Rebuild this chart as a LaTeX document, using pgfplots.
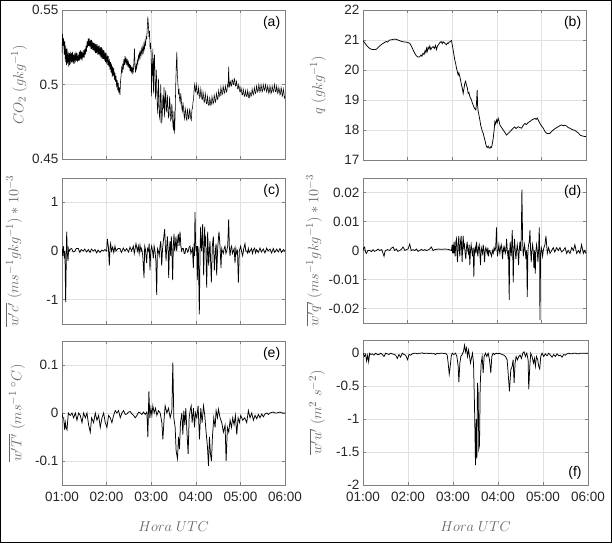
\documentclass[border=0pt]{standalone}
\usepackage{fontspec}
\setmainfont{Liberation Sans}
\usepackage{pgfplots}
\pgfplotsset{compat=1.18}
\newcommand{\labfont}{\fontsize{15}{18}\selectfont}
\pgfplotsset{
  myax/.style={
    scale only axis, xmin=1, xmax=6, xtick={1,2,3,4,5,6},
    scaled ticks=false,
    grid=major, major grid style={black!12, line width=0.4pt},
    axis line style={black!50, line width=0.5pt},
    tick style={black!50, line width=0.4pt}, tick align=inside, major tick length=3pt,
    ticklabel style={font=\fontsize{13.5}{16}\selectfont, text=black!85},
    xticklabel style={yshift=-4pt},
    cycle list={{black, mark=none, line width=0.75pt, line join=round}},
    xticklabels={},
  },
  ylab/.style={every axis y label/.style={at={([xshift=-#1]axis description cs:0,0.5)}, rotate=90, anchor=center, font=\labfont, text=black!60}},
  xlab/.style={every axis x label/.style={at={([yshift=-42pt]axis description cs:0.5,0)}, anchor=center, font=\labfont, text=black!60}},
  hrs/.style={xticklabels={01:00,02:00,03:00,04:00,05:00,06:00}},
}
\newcommand{\plab}{\fontsize{14}{16}\selectfont}
\begin{document}
\begin{tikzpicture}
\useasboundingbox (0pt,0pt) rectangle (612pt,543pt);
% (a)
\begin{axis}[myax, at={(62pt,384pt)}, anchor=south west, width=223pt, height=149pt,
  ymin=0.45, ymax=0.55, ytick={0.45,0.5,0.55}, yticklabels={0.45,0.5,0.55},
  ylab=43pt, ylabel={$CO_2\ (gkg^{-1})$}]
\addplot[black, mark=none, line width=0.55pt] coordinates {
(1.000,0.521)(1.012,0.534)(1.025,0.526)(1.037,0.531)(1.050,0.520)(1.062,0.529)(1.075,0.515)(1.087,0.526)(1.100,0.513)(1.112,0.524)(1.125,0.514)(1.137,0.522)(1.150,0.512)(1.162,0.521)(1.175,0.513)(1.187,0.522)(1.200,0.514)(1.212,0.521)(1.225,0.515)(1.237,0.522)(1.250,0.514)(1.262,0.520)(1.275,0.514)(1.287,0.521)(1.300,0.515)(1.312,0.522)(1.325,0.516)(1.337,0.521)(1.350,0.515)(1.362,0.520)(1.375,0.516)(1.387,0.522)(1.400,0.516)(1.412,0.523)(1.425,0.517)(1.437,0.522)(1.450,0.516)(1.462,0.522)(1.475,0.518)(1.487,0.523)(1.500,0.518)(1.512,0.524)(1.525,0.520)(1.537,0.526)(1.550,0.522)(1.562,0.529)(1.575,0.525)(1.587,0.531)(1.600,0.526)(1.612,0.531)(1.625,0.525)(1.637,0.530)(1.650,0.524)(1.662,0.530)(1.675,0.523)(1.687,0.529)(1.700,0.523)(1.712,0.528)(1.725,0.522)(1.737,0.528)(1.750,0.521)(1.762,0.527)(1.775,0.521)(1.787,0.527)(1.800,0.520)(1.812,0.526)(1.825,0.520)(1.837,0.526)(1.850,0.519)(1.862,0.525)(1.875,0.518)(1.887,0.525)(1.900,0.517)(1.912,0.524)(1.925,0.517)(1.937,0.523)(1.950,0.516)(1.962,0.522)(1.975,0.515)(1.987,0.521)(2.000,0.514)(2.012,0.520)(2.025,0.513)(2.037,0.519)(2.050,0.512)(2.062,0.517)(2.075,0.510)(2.087,0.515)(2.100,0.508)(2.112,0.514)(2.125,0.505)(2.137,0.512)(2.150,0.506)(2.162,0.511)(2.175,0.503)(2.187,0.508)(2.200,0.502)(2.212,0.506)(2.225,0.498)(2.237,0.503)(2.250,0.496)(2.262,0.501)(2.275,0.494)(2.287,0.498)(2.300,0.493)(2.312,0.502)(2.325,0.506)(2.337,0.511)(2.350,0.508)(2.362,0.514)(2.375,0.510)(2.387,0.517)(2.400,0.513)(2.412,0.519)(2.425,0.515)(2.437,0.518)(2.450,0.513)(2.462,0.517)(2.475,0.512)(2.487,0.516)(2.500,0.511)(2.512,0.514)(2.525,0.509)(2.537,0.513)(2.550,0.508)(2.562,0.512)(2.575,0.507)(2.587,0.511)(2.600,0.509)(2.612,0.515)(2.625,0.524)(2.637,0.512)(2.650,0.508)(2.662,0.513)(2.675,0.511)(2.687,0.516)(2.700,0.514)(2.712,0.519)(2.725,0.517)(2.737,0.521)(2.750,0.518)(2.762,0.522)(2.775,0.520)(2.787,0.524)(2.800,0.521)(2.812,0.525)(2.825,0.522)(2.837,0.527)(2.850,0.524)(2.862,0.529)(2.875,0.527)(2.887,0.532)(2.900,0.531)(2.912,0.538)(2.925,0.5455)(2.937,0.540)(2.950,0.532)(2.962,0.536)(2.975,0.524)(2.987,0.528)(3.000,0.519)(3.008,0.492)(3.017,0.514)(3.025,0.506)(3.037,0.524)(3.050,0.494)(3.062,0.515)(3.075,0.520)(3.087,0.497)(3.100,0.490)(3.112,0.510)(3.125,0.502)(3.137,0.485)(3.150,0.480)(3.162,0.504)(3.175,0.492)(3.187,0.478)(3.200,0.476)(3.212,0.500)(3.225,0.489)(3.237,0.474)(3.250,0.480)(3.262,0.493)(3.275,0.484)(3.287,0.498)(3.300,0.478)(3.312,0.490)(3.325,0.496)(3.337,0.483)(3.350,0.482)(3.362,0.493)(3.375,0.486)(3.387,0.478)(3.400,0.479)(3.412,0.492)(3.425,0.486)(3.437,0.476)(3.450,0.477)(3.462,0.487)(3.475,0.481)(3.487,0.472)(3.500,0.470)(3.512,0.482)(3.525,0.467)(3.537,0.480)(3.550,0.500)(3.562,0.512)(3.575,0.522)(3.587,0.506)(3.600,0.500)(3.612,0.494)(3.625,0.496)(3.637,0.490)(3.650,0.488)(3.662,0.494)(3.675,0.490)(3.687,0.484)(3.700,0.482)(3.712,0.488)(3.725,0.484)(3.737,0.479)(3.750,0.477)(3.762,0.484)(3.775,0.482)(3.787,0.477)(3.800,0.476)(3.812,0.483)(3.825,0.481)(3.837,0.477)(3.850,0.478)(3.862,0.484)(3.875,0.481)(3.887,0.477)(3.900,0.476)(3.912,0.483)(3.925,0.484)(3.937,0.488)(3.950,0.490)(3.962,0.497)(3.975,0.500)(3.987,0.496)(4.000,0.495)(4.012,0.500)(4.025,0.497)(4.037,0.494)(4.050,0.493)(4.062,0.498)(4.075,0.495)(4.087,0.491)(4.100,0.492)(4.112,0.497)(4.125,0.494)(4.137,0.490)(4.150,0.490)(4.162,0.495)(4.175,0.492)(4.187,0.488)(4.200,0.489)(4.212,0.494)(4.225,0.491)(4.237,0.487)(4.250,0.487)(4.262,0.492)(4.275,0.489)(4.287,0.486)(4.300,0.486)(4.312,0.491)(4.325,0.489)(4.337,0.486)(4.350,0.487)(4.362,0.492)(4.375,0.490)(4.387,0.487)(4.400,0.488)(4.412,0.493)(4.425,0.491)(4.437,0.488)(4.450,0.489)(4.462,0.494)(4.475,0.492)(4.487,0.490)(4.500,0.491)(4.512,0.496)(4.525,0.494)(4.537,0.492)(4.550,0.493)(4.562,0.498)(4.575,0.496)(4.587,0.493)(4.600,0.494)(4.612,0.499)(4.625,0.497)(4.637,0.494)(4.650,0.495)(4.662,0.499)(4.675,0.497)(4.687,0.495)(4.700,0.496)(4.712,0.500)(4.725,0.499)(4.737,0.512)(4.750,0.498)(4.762,0.501)(4.775,0.502)(4.787,0.499)(4.800,0.499)(4.812,0.503)(4.825,0.503)(4.837,0.500)(4.850,0.500)(4.862,0.504)(4.875,0.503)(4.887,0.499)(4.900,0.499)(4.912,0.502)(4.925,0.500)(4.937,0.497)(4.950,0.497)(4.962,0.500)(4.975,0.498)(4.987,0.495)(5.000,0.495)(5.012,0.498)(5.025,0.496)(5.037,0.493)(5.050,0.493)(5.062,0.497)(5.075,0.495)(5.087,0.492)(5.100,0.492)(5.112,0.496)(5.125,0.494)(5.137,0.492)(5.150,0.492)(5.162,0.496)(5.175,0.494)(5.187,0.491)(5.200,0.491)(5.212,0.495)(5.225,0.494)(5.237,0.492)(5.250,0.493)(5.262,0.497)(5.275,0.495)(5.287,0.493)(5.300,0.494)(5.312,0.498)(5.325,0.496)(5.337,0.494)(5.350,0.495)(5.362,0.499)(5.375,0.497)(5.387,0.495)(5.400,0.496)(5.412,0.500)(5.425,0.498)(5.437,0.495)(5.450,0.496)(5.462,0.500)(5.475,0.498)(5.487,0.495)(5.500,0.496)(5.512,0.500)(5.525,0.498)(5.537,0.496)(5.550,0.497)(5.562,0.500)(5.575,0.498)(5.587,0.495)(5.600,0.496)(5.612,0.499)(5.625,0.497)(5.637,0.494)(5.650,0.495)(5.662,0.499)(5.675,0.497)(5.687,0.494)(5.700,0.495)(5.712,0.499)(5.725,0.497)(5.737,0.495)(5.750,0.496)(5.762,0.500)(5.775,0.498)(5.787,0.495)(5.800,0.495)(5.812,0.499)(5.825,0.497)(5.837,0.494)(5.850,0.495)(5.862,0.498)(5.875,0.496)(5.887,0.493)(5.900,0.494)(5.912,0.498)(5.925,0.496)(5.937,0.492)(5.950,0.493)(5.962,0.497)(5.975,0.495)(5.987,0.491)(6.000,0.492)
};
\node[font=\plab, anchor=center] at (rel axis cs:0.94,0.913) {(a)};
\end{axis}
% (b)
\begin{axis}[myax, at={(363pt,383pt)}, anchor=south west, width=223pt, height=150pt,
  ymin=17, ymax=22, ytick={17,18,19,20,21,22}, yticklabels={17,18,19,20,21,22},
  ylab=45pt, ylabel={$q\ (gkg^{-1})$}]
\addplot[black, mark=none, line width=0.75pt] coordinates {
(1.000,20.98)(1.04,20.90)(1.075,20.83)(1.13,20.74)(1.187,20.69)(1.24,20.68)(1.299,20.69)(1.374,20.80)(1.43,20.87)(1.487,20.92)(1.52,20.95)(1.55,20.93)(1.599,21.00)(1.65,21.01)(1.70,21.03)(1.749,21.02)(1.80,20.99)(1.85,20.96)(1.898,20.94)(1.95,20.93)(2.00,20.92)(2.048,20.89)(2.09,20.78)(2.123,20.67)(2.16,20.56)(2.198,20.47)(2.24,20.43)(2.272,20.44)(2.30,20.50)(2.32,20.46)(2.347,20.56)(2.37,20.52)(2.39,20.64)(2.41,20.58)(2.422,20.72)(2.44,20.62)(2.46,20.76)(2.48,20.70)(2.497,20.80)(2.52,20.68)(2.54,20.74)(2.572,20.78)(2.60,20.72)(2.625,20.82)(2.647,20.68)(2.67,20.80)(2.70,20.86)(2.722,20.91)(2.75,20.95)(2.78,20.88)(2.796,20.94)(2.83,20.90)(2.871,20.84)(2.89,20.90)(2.909,20.88)(2.93,20.93)(2.946,20.94)(2.984,20.98)(3.00,20.85)(3.021,20.67)(3.04,20.50)(3.058,20.33)(3.08,20.20)(3.096,20.06)(3.115,19.95)(3.133,19.83)(3.15,19.90)(3.171,19.78)(3.19,19.65)(3.208,19.50)(3.225,19.40)(3.246,19.22)(3.26,19.35)(3.283,19.56)(3.30,19.62)(3.320,19.50)(3.34,19.40)(3.358,19.22)(3.375,19.25)(3.395,19.12)(3.415,19.05)(3.433,19.00)(3.45,18.90)(3.470,18.83)(3.50,18.72)(3.530,18.67)(3.545,18.90)(3.560,19.33)(3.570,18.80)(3.582,18.62)(3.60,18.50)(3.620,18.33)(3.64,18.15)(3.657,18.06)(3.675,17.95)(3.695,17.89)(3.712,17.78)(3.732,17.67)(3.75,17.55)(3.769,17.44)(3.79,17.42)(3.807,17.46)(3.825,17.40)(3.844,17.39)(3.86,17.44)(3.882,17.42)(3.90,17.55)(3.919,17.72)(3.94,18.00)(3.957,18.28)(3.975,18.20)(3.994,18.33)(4.01,18.25)(4.031,18.39)(4.05,18.30)(4.069,18.17)(4.10,18.10)(4.144,18.00)(4.18,17.92)(4.219,17.83)(4.25,17.88)(4.293,17.94)(4.33,18.00)(4.368,18.06)(4.40,18.10)(4.43,18.05)(4.481,18.11)(4.52,18.08)(4.555,18.06)(4.59,18.15)(4.630,18.22)(4.66,18.18)(4.705,18.25)(4.74,18.28)(4.780,18.33)(4.82,18.36)(4.855,18.39)(4.88,18.35)(4.907,18.40)(4.94,18.30)(4.967,18.22)(5.00,18.14)(5.042,18.06)(5.08,17.95)(5.117,17.89)(5.15,17.88)(5.192,17.89)(5.23,17.95)(5.266,18.00)(5.32,18.06)(5.379,18.11)(5.42,18.15)(5.454,18.17)(5.49,18.14)(5.52,18.16)(5.566,18.13)(5.60,18.08)(5.641,18.06)(5.68,18.02)(5.716,18.00)(5.75,17.99)(5.790,17.94)(5.83,17.90)(5.865,17.83)(5.92,17.80)(5.978,17.78)(6.000,17.79)
};
\node[font=\plab, anchor=center] at (rel axis cs:0.94,0.913) {(b)};
\end{axis}
% (c)
\begin{axis}[myax, at={(62pt,219pt)}, anchor=south west, width=223pt, height=146pt,
  ymin=-1.5, ymax=1.5, ytick={-1,0,1}, yticklabels={-1,0,1},
  ylab=48pt, ylabel={$\overline{w'c'}\ (ms^{-1}gkg^{-1})*10^{-3}$}]
\addplot[black, mark=none, line width=0.75pt] coordinates {
(1.000,0.05)(1.015,-0.1)(1.030,0.1)(1.052,-0.15)(1.066,0.0)(1.082,-1.05)(1.105,0.4)(1.120,-0.05)(1.135,-0.2)(1.150,0.05)(1.164,0.0)(1.19,0.04)(1.217,0.05)(1.25,-0.02)(1.291,0.0)(1.32,0.05)(1.366,0.05)(1.40,-0.03)(1.43,0.03)(1.478,0.0)(1.51,0.04)(1.553,-0.02)(1.59,0.03)(1.628,-0.03)(1.66,0.04)(1.703,0.0)(1.74,0.03)(1.777,-0.04)(1.81,0.02)(1.852,-0.03)(1.89,0.02)(1.927,0.0)(1.96,0.03)(2.001,0.0)(2.016,0.25)(2.039,0.1)(2.061,-0.3)(2.076,0.05)(2.091,0.15)(2.11,0.0)(2.136,0.08)(2.16,-0.03)(2.188,0.1)(2.21,0.0)(2.226,0.02)(2.26,0.05)(2.300,0.05)(2.33,-0.03)(2.375,0.06)(2.41,0.0)(2.450,0.05)(2.49,-0.02)(2.525,0.08)(2.56,0.0)(2.599,0.1)(2.62,-0.05)(2.659,0.15)(2.69,0.0)(2.711,0.1)(2.73,-0.05)(2.749,0.12)(2.77,0.0)(2.786,0.05)(2.81,-0.08)(2.839,-0.55)(2.854,0.1)(2.868,0.05)(2.883,-0.1)(2.898,-0.25)(2.915,0.05)(2.936,0.0)(2.955,0.15)(2.973,-0.4)(2.99,0.0)(3.010,0.1)(3.03,0.0)(3.048,-0.15)(3.065,0.1)(3.085,0.0)(3.105,-0.2)(3.123,-0.9)(3.14,0.05)(3.160,0.0)(3.18,-0.1)(3.197,0.1)(3.215,0.2)(3.235,-0.3)(3.255,0.05)(3.272,0.2)(3.302,0.45)(3.318,0.1)(3.332,-0.2)(3.347,0.05)(3.362,0.3)(3.38,0.0)(3.392,-0.55)(3.407,0.0)(3.422,0.2)(3.437,-0.1)(3.451,0.3)(3.466,0.0)(3.481,-0.6)(3.496,0.1)(3.511,0.35)(3.526,0.0)(3.541,0.1)(3.556,0.3)(3.571,0.0)(3.59,0.2)(3.608,0.35)(3.625,0.1)(3.646,0.4)(3.665,0.1)(3.683,0.0)(3.700,0.05)(3.720,0.05)(3.74,-0.05)(3.758,-0.05)(3.775,0.05)(3.795,0.05)(3.815,-0.02)(3.833,0.0)(3.850,0.08)(3.870,0.1)(3.89,-0.05)(3.907,0.0)(3.925,0.05)(3.945,-0.35)(3.960,0.15)(3.970,-0.1)(3.982,0.8)(3.994,0.2)(4.004,0.0)(4.020,0.1)(4.034,-0.6)(4.045,0.1)(4.057,0.0)(4.079,-1.3)(4.095,0.0)(4.109,0.5)(4.120,0.1)(4.131,0.0)(4.154,0.55)(4.176,-0.5)(4.199,0.5)(4.210,0.1)(4.221,0.3)(4.244,-0.75)(4.266,0.4)(4.289,-0.3)(4.305,0.0)(4.318,0.2)(4.348,-0.65)(4.371,0.1)(4.393,0.3)(4.416,-0.4)(4.438,0.0)(4.455,0.15)(4.468,-0.5)(4.490,0.05)(4.520,0.4)(4.543,0.1)(4.565,-0.35)(4.58,0.05)(4.595,0.0)(4.617,-0.05)(4.635,0.05)(4.655,0.1)(4.675,-0.05)(4.692,0.0)(4.715,0.1)(4.737,0.65)(4.752,0.1)(4.767,-0.1)(4.785,0.05)(4.804,0.1)(4.822,-0.05)(4.842,0.0)(4.860,0.05)(4.879,-0.25)(4.898,0.05)(4.916,-0.05)(4.935,0.0)(4.954,-0.65)(4.976,0.0)(4.99,0.05)(5.006,0.1)(5.03,-0.03)(5.051,-0.1)(5.075,0.05)(5.103,0.15)(5.12,0.0)(5.141,0.0)(5.16,-0.04)(5.178,0.05)(5.195,-0.03)(5.215,0.0)(5.25,0.05)(5.270,-0.05)(5.290,0.02)(5.32,0.06)(5.34,-0.04)(5.365,0.03)(5.40,-0.03)(5.439,0.06)(5.47,-0.02)(5.514,0.04)(5.55,-0.04)(5.590,0.06)(5.62,0.0)(5.664,0.04)(5.70,-0.04)(5.738,0.05)(5.77,-0.03)(5.813,0.04)(5.85,-0.02)(5.888,0.05)(5.92,-0.03)(5.963,0.03)(6.000,0.0)
};
\node[font=\plab, anchor=center] at (rel axis cs:0.94,0.91) {(c)};
\end{axis}
% (d)
\begin{axis}[myax, at={(363pt,220pt)}, anchor=south west, width=223pt, height=145pt,
  ymin=-0.025, ymax=0.025, ytick={-0.02,-0.01,0,0.01,0.02}, yticklabels={-0.02,-0.01,0,0.01,0.02},
  ylab=49pt, ylabel={$\overline{w'q'}\ (ms^{-1}gkg^{-1})*10^{-3}$}]
\addplot[black, mark=none, line width=0.75pt] coordinates {
(1.000,0.0)(1.02,0.001)(1.037,0.0012)(1.055,-0.0005)(1.075,-0.001)(1.11,0.0)(1.150,0.0)(1.19,-0.0004)(1.225,0.0003)(1.26,-0.0003)(1.299,0.0)(1.34,0.0005)(1.374,0.0)(1.42,0.0003)(1.472,-0.002)(1.49,-0.0005)(1.509,0.0)(1.55,0.0003)(1.599,0.0)(1.635,0.0008)(1.674,0.0012)(1.71,0.0)(1.749,0.0005)(1.78,-0.0003)(1.823,0.0)(1.86,0.0004)(1.898,0.0012)(1.94,0.0)(1.973,0.0003)(2.01,0.0005)(2.048,0.0022)(2.08,0.0)(2.123,0.0003)(2.16,0.0)(2.198,0.0005)(2.235,-0.0003)(2.272,0.0)(2.31,0.0004)(2.347,0.0)(2.385,0.0003)(2.422,0.0)(2.48,0.0003)(2.534,0.0012)(2.57,0.0)(2.609,0.0003)(2.684,0.0005)(2.759,0.0004)(2.834,0.0005)(2.909,0.0004)(2.984,0.0)(2.999,0.002)(3.010,-0.001)(3.021,0.002)(3.032,-0.001)(3.043,0.003)(3.055,0.0)(3.066,-0.002)(3.081,0.003)(3.096,0.004)(3.107,-0.001)(3.118,-0.004)(3.133,0.002)(3.148,0.005)(3.160,0.0)(3.171,-0.002)(3.186,0.003)(3.201,0.005)(3.212,0.0)(3.223,-0.004)(3.235,0.002)(3.246,0.005)(3.26,0.001)(3.275,0.002)(3.29,-0.001)(3.305,-0.003)(3.32,0.001)(3.335,0.003)(3.35,0.0)(3.365,-0.001)(3.38,0.002)(3.395,-0.005)(3.41,0.0)(3.425,0.002)(3.44,0.0)(3.455,-0.002)(3.47,0.001)(3.485,-0.009)(3.50,0.0)(3.515,0.001)(3.53,-0.001)(3.545,0.003)(3.56,0.0)(3.575,-0.002)(3.59,0.001)(3.605,0.002)(3.62,-0.001)(3.635,-0.005)(3.65,0.001)(3.665,0.0)(3.68,-0.001)(3.695,0.002)(3.71,0.0)(3.725,-0.004)(3.74,0.0)(3.754,0.001)(3.77,0.0)(3.784,-0.001)(3.80,0.001)(3.814,-0.002)(3.83,0.0)(3.844,0.0)(3.862,-0.001)(3.882,-0.002)(3.90,0.0)(3.919,-0.001)(3.94,0.001)(3.957,0.0)(3.975,0.001)(3.994,0.008)(4.005,0.0)(4.016,-0.002)(4.03,0.0)(4.046,0.002)(4.058,0.0)(4.069,-0.001)(4.085,0.001)(4.099,0.002)(4.115,0.0)(4.129,-0.003)(4.145,0.001)(4.159,0.0)(4.175,0.001)(4.189,-0.001)(4.205,0.0)(4.219,0.004)(4.235,0.0)(4.249,-0.002)(4.263,0.0)(4.278,-0.017)(4.290,0.0)(4.301,0.003)(4.312,0.0)(4.323,-0.002)(4.335,0.002)(4.346,0.007)(4.357,0.0)(4.368,-0.011)(4.383,0.0)(4.398,0.004)(4.413,0.0)(4.428,-0.003)(4.443,0.0)(4.458,0.002)(4.473,0.0)(4.488,-0.005)(4.503,0.0)(4.518,0.003)(4.530,0.0)(4.540,0.0)(4.552,0.008)(4.563,0.021)(4.578,0.004)(4.593,-0.002)(4.608,0.0)(4.623,0.002)(4.638,0.0)(4.653,-0.003)(4.668,0.0)(4.683,-0.016)(4.698,0.0)(4.713,0.002)(4.728,0.003)(4.743,0.007)(4.758,0.0)(4.772,-0.004)(4.787,0.0)(4.802,0.002)(4.817,0.0)(4.832,-0.006)(4.847,0.0)(4.862,-0.008)(4.877,0.0)(4.892,0.002)(4.907,0.0)(4.922,-0.004)(4.937,0.0)(4.952,0.008)(4.960,0.0)(4.967,-0.024)(4.982,-0.002)(4.997,0.001)(5.012,0.0)(5.027,-0.002)(5.042,0.0)(5.057,0.001)(5.08,0.002)(5.102,0.005)(5.117,0.002)(5.132,-0.001)(5.147,0.0)(5.162,0.001)(5.177,0.0)(5.192,-0.001)(5.23,0.0)(5.266,0.001)(5.30,-0.0005)(5.341,0.001)(5.38,0.0)(5.416,0.001)(5.45,-0.0005)(5.491,0.0)(5.53,0.001)(5.566,-0.001)(5.60,0.0)(5.641,-0.001)(5.68,0.001)(5.716,0.0)(5.75,0.002)(5.790,-0.001)(5.83,0.0)(5.865,-0.001)(5.90,0.002)(5.940,-0.001)(5.97,0.0)(6.000,-0.001)
};
\node[font=\plab, anchor=center] at (rel axis cs:0.94,0.905) {(d)};
\end{axis}
% (e)
\begin{axis}[myax, hrs, at={(62pt,58pt)}, anchor=south west, width=223pt, height=144pt,
  ymin=-0.15, ymax=0.15, ytick={-0.1,0,0.1}, yticklabels={-0.1,0,0.1},
  ylab=45pt, ylabel={$\overline{w'T'}\ (ms^{-1\ \circ}C)$},
  xlab, xlabel={$Hora\ UTC$}]
\addplot[black, mark=none, line width=0.75pt] coordinates {
(1.000,0.0)(1.018,-0.01)(1.037,-0.01)(1.060,-0.035)(1.075,-0.02)(1.090,-0.03)(1.112,-0.035)(1.142,0.0)(1.165,-0.003)(1.187,-0.005)(1.224,0.0)(1.261,-0.01)(1.299,0.0)(1.336,-0.015)(1.373,0.0)(1.410,-0.005)(1.448,-0.02)(1.485,0.0)(1.522,-0.01)(1.560,0.0)(1.597,-0.025)(1.634,-0.04)(1.664,-0.01)(1.709,-0.02)(1.746,0.0)(1.784,-0.015)(1.821,-0.005)(1.858,-0.03)(1.896,-0.01)(1.933,0.0)(1.970,-0.02)(2.007,-0.03)(2.045,-0.005)(2.082,-0.01)(2.119,-0.02)(2.157,-0.005)(2.194,0.005)(2.231,0.0)(2.269,0.005)(2.306,-0.01)(2.343,0.0)(2.381,0.005)(2.418,-0.003)(2.455,-0.002)(2.49,0.002)(2.530,0.003)(2.57,-0.002)(2.604,-0.005)(2.642,-0.01)(2.679,-0.005)(2.72,0.002)(2.754,0.0)(2.79,-0.003)(2.828,0.002)(2.866,-0.003)(2.903,0.002)(2.925,-0.05)(2.948,0.045)(2.970,-0.01)(2.993,0.01)(3.015,-0.005)(3.037,0.015)(3.067,0.0)(3.097,0.01)(3.127,-0.005)(3.164,0.005)(3.201,0.0)(3.239,-0.02)(3.261,-0.055)(3.291,-0.01)(3.313,0.015)(3.351,0.0)(3.388,0.01)(3.425,-0.01)(3.463,0.005)(3.485,0.105)(3.507,-0.01)(3.537,-0.03)(3.560,-0.08)(3.590,-0.095)(3.612,-0.05)(3.634,-0.075)(3.657,-0.02)(3.687,0.0)(3.709,-0.045)(3.731,0.005)(3.754,-0.025)(3.776,0.01)(3.799,-0.035)(3.828,-0.085)(3.851,-0.01)(3.873,0.005)(3.896,0.015)(3.918,-0.02)(3.948,0.01)(3.970,-0.03)(3.993,0.0)(4.022,-0.01)(4.052,0.015)(4.082,-0.055)(4.112,0.01)(4.142,-0.02)(4.172,0.015)(4.201,-0.005)(4.231,-0.04)(4.261,-0.07)(4.284,-0.11)(4.306,-0.05)(4.328,-0.085)(4.351,-0.1)(4.373,-0.05)(4.403,-0.01)(4.433,-0.03)(4.455,0.005)(4.485,-0.01)(4.507,0.008)(4.545,-0.01)(4.582,-0.02)(4.619,-0.04)(4.657,-0.025)(4.679,-0.1)(4.709,-0.03)(4.739,-0.04)(4.769,-0.015)(4.799,-0.03)(4.828,-0.01)(4.858,-0.025)(4.888,-0.005)(4.918,-0.045)(4.948,-0.01)(4.978,-0.02)(5.007,-0.005)(5.052,-0.015)(5.097,-0.01)(5.142,-0.02)(5.179,0.005)(5.216,-0.01)(5.254,0.0)(5.291,-0.015)(5.328,-0.005)(5.366,-0.012)(5.403,-0.003)(5.440,-0.01)(5.478,-0.002)(5.515,-0.008)(5.552,-0.002)(5.590,0.0)(5.627,-0.003)(5.664,0.0)(5.70,0.001)(5.739,0.002)(5.776,0.0)(5.813,0.0)(5.85,0.001)(5.888,0.002)(5.94,0.0)(6.000,0.0)
};
\node[font=\plab, anchor=center] at (rel axis cs:0.94,0.91) {(e)};
\end{axis}
% (f)
\begin{axis}[myax, hrs, at={(363pt,58pt)}, anchor=south west, width=225pt, height=145pt,
  ymin=-2, ymax=0.2, ytick={-2,-1.5,-1,-0.5,0}, yticklabels={-2,-1.5,-1,-0.5,0},
  ylab=46pt, ylabel={$\overline{w'u'}\ (m^2\ s^{-2})$},
  xlab, xlabel={$Hora\ UTC$}]
\addplot[black, mark=none, line width=0.75pt] coordinates {
(1.000,0.0)(1.015,-0.02)(1.030,-0.05)(1.059,-0.02)(1.081,-0.12)(1.104,-0.03)(1.126,-0.13)(1.148,0.0)(1.175,-0.02)(1.207,-0.01)(1.245,-0.03)(1.281,0.0)(1.32,-0.02)(1.355,-0.02)(1.392,0.0)(1.43,-0.02)(1.466,-0.05)(1.503,0.0)(1.54,-0.01)(1.577,-0.02)(1.614,0.0)(1.651,-0.01)(1.69,-0.02)(1.725,-0.03)(1.762,-0.08)(1.799,-0.02)(1.836,-0.06)(1.873,0.0)(1.91,-0.02)(1.947,-0.03)(1.991,-0.1)(2.021,-0.02)(2.06,-0.03)(2.095,-0.01)(2.13,0.0)(2.169,0.0)(2.21,-0.01)(2.243,0.0)(2.28,0.0)(2.317,0.005)(2.35,-0.005)(2.391,0.0)(2.43,0.0)(2.464,-0.005)(2.50,0.0)(2.538,-0.01)(2.575,-0.005)(2.612,-0.02)(2.649,0.0)(2.686,-0.01)(2.72,0.0)(2.760,0.0)(2.80,-0.005)(2.834,0.0)(2.871,-0.03)(2.893,-0.15)(2.916,-0.32)(2.938,-0.2)(2.960,-0.05)(2.982,0.0)(3.019,-0.02)(3.056,0.0)(3.086,-0.05)(3.115,-0.2)(3.130,-0.44)(3.152,-0.15)(3.175,-0.05)(3.204,-0.02)(3.234,0.03)(3.256,0.12)(3.278,0.02)(3.300,0.08)(3.322,-0.05)(3.345,0.05)(3.367,-0.05)(3.389,-0.15)(3.411,-0.07)(3.433,0.0)(3.456,-0.15)(3.478,-0.8)(3.500,-1.7)(3.515,-1.0)(3.530,-1.6)(3.544,-0.45)(3.559,-0.6)(3.574,-1.45)(3.589,-1.4)(3.604,-0.5)(3.626,-0.15)(3.648,-0.05)(3.670,-0.3)(3.692,-0.05)(3.722,0.0)(3.751,-0.05)(3.781,0.0)(3.811,-0.1)(3.840,-0.3)(3.862,-0.05)(3.892,0.0)(3.922,-0.02)(3.959,0.0)(3.99,-0.01)(4.018,0.0)(4.055,-0.01)(4.092,-0.02)(4.13,-0.03)(4.166,-0.05)(4.203,-0.1)(4.225,-0.3)(4.254,-0.58)(4.284,-0.25)(4.314,-0.2)(4.336,-0.1)(4.358,-0.45)(4.380,-0.15)(4.402,-0.05)(4.432,-0.1)(4.462,-0.05)(4.491,-0.03)(4.521,-0.08)(4.550,0.0)(4.580,0.02)(4.609,-0.05)(4.639,0.0)(4.669,-0.1)(4.683,-0.55)(4.706,-0.2)(4.728,0.0)(4.757,-0.05)(4.787,-0.15)(4.809,-0.08)(4.831,-0.2)(4.854,-0.05)(4.883,-0.1)(4.905,-0.2)(4.927,-0.24)(4.950,-0.05)(4.979,0.0)(5.016,-0.05)(5.053,-0.01)(5.090,-0.04)(5.127,0.0)(5.164,-0.03)(5.201,-0.06)(5.238,-0.02)(5.275,-0.05)(5.312,-0.01)(5.349,-0.04)(5.386,-0.03)(5.423,-0.06)(5.460,-0.02)(5.497,-0.03)(5.534,-0.01)(5.571,0.0)(5.61,-0.01)(5.645,-0.01)(5.68,0.0)(5.719,0.0)(5.756,-0.01)(5.793,-0.01)(5.83,0.0)(5.867,0.0)(5.93,0.0)(6.000,0.0)
};
\node[font=\plab, anchor=center] at (rel axis cs:0.942,0.083) {(f)};
\end{axis}
\draw[line width=1pt] (0.5pt,0.5pt) rectangle (611.5pt,542.5pt);
\end{tikzpicture}
\end{document}
